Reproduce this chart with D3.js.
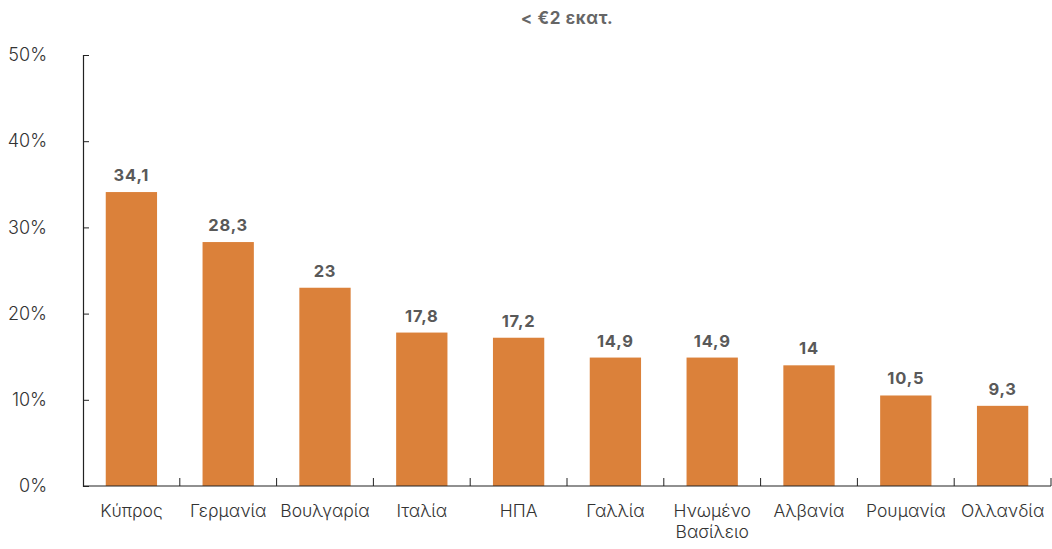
<!DOCTYPE html>
<html><head><meta charset="utf-8">
<script src="https://cdn.jsdelivr.net/npm/d3@7"></script>
<style>body{margin:0;background:#fff;} svg{display:block;}</style>
</head><body>
<svg id="c" width="1052" height="549"></svg>
<script>
const categories = ["Κύπρος","Γερμανία","Βουλγαρία","Ιταλία","ΗΠΑ","Γαλλία","Ηνωμένο Βασίλειο","Αλβανία","Ρουμανία","Ολλανδία"];
const values = [34.1,28.3,23,17.8,17.2,14.9,14.9,14,10.5,9.3];
const valueLabels = ["34,1","28,3","23","17,8","17,2","14,9","14,9","14","10,5","9,3"];
const yTicks = [0,10,20,30,40,50];
const title = "< €2 εκατ.";

const svg = d3.select("#c");
const font = "Inter, 'Open Sans', sans-serif";
const x = d3.scaleBand().domain(categories).range([83,1051]).paddingInner(0.47).paddingOuter(0.235);
const y = d3.scaleLinear().domain([0,50]).range([486,55]);

svg.append("text").attr("x",567).attr("y",24).attr("text-anchor","middle")
  .attr("font-family",font).attr("font-weight","bold").attr("font-size",17).attr("letter-spacing",0.6)
  .attr("fill","#666").text(title);

svg.selectAll("rect.bar").data(values).join("rect").attr("class","bar")
  .attr("x",(d,i)=>x(categories[i])).attr("width",x.bandwidth())
  .attr("y",d=>y(d)).attr("height",d=>y(0)-y(d)).attr("fill","#DB813A");

svg.selectAll("text.val").data(values).join("text").attr("class","val")
  .attr("x",(d,i)=>x(categories[i])+x.bandwidth()/2).attr("y",d=>y(d)-11)
  .attr("text-anchor","middle").attr("font-family",font).attr("font-weight","bold")
  .attr("font-size",16.5).attr("letter-spacing",0.8).attr("fill","#595959").text((d,i)=>valueLabels[i]);

// y axis
const yAxis = svg.append("g").attr("transform","translate(83,0)")
  .call(d3.axisRight(y).tickValues(yTicks).tickSize(6).tickFormat(d=>d+"%"));
yAxis.select(".domain").attr("stroke","#222").attr("stroke-width",1.2);
yAxis.selectAll(".tick line").attr("stroke","#222");
yAxis.selectAll(".tick text").attr("text-anchor","end").attr("dx",0)
  .attr("font-family",font).attr("font-size",18).attr("fill","#333").attr("font-weight",300)
  .attr("x",-36);

// x axis line and separating ticks
svg.append("line").attr("x1",83).attr("x2",1051).attr("y1",y(0)).attr("y2",y(0)).attr("stroke","#222").attr("stroke-width",1.2);
const sep = d3.range(categories.length+1).map(i=>83+i*x.step());
svg.selectAll("line.sep").data(sep.slice(1)).join("line").attr("class","sep")
  .attr("x1",d=>d).attr("x2",d=>d).attr("y1",y(0)).attr("y2",y(0)-8).attr("stroke","#222");

const lab = svg.selectAll("text.cat").data(categories).join("text").attr("class","cat")
  .attr("x",d=>x(d)+x.bandwidth()/2).attr("y",517).attr("text-anchor","middle")
  .attr("font-family",font).attr("font-size",17.5).attr("fill","#333").attr("font-weight",300);
lab.each(function(d){
  const parts = d==="Ηνωμένο Βασίλειο" ? ["Ηνωμένο","Βασίλειο"] : [d];
  const t = d3.select(this);
  parts.forEach((p,j)=>t.append("tspan").attr("x",x(d)+x.bandwidth()/2).attr("dy",j?21:0).text(p));
});
</script>
</body></html>
